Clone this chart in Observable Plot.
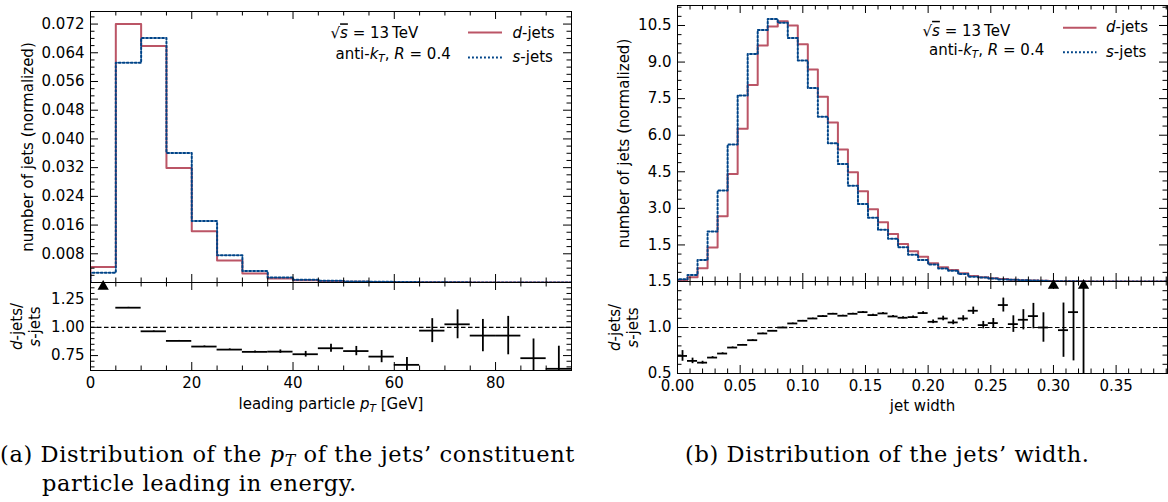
<!DOCTYPE html>
<html><head><meta charset="utf-8">
<script src="https://cdn.jsdelivr.net/npm/d3@7"></script>
<script src="https://cdn.jsdelivr.net/npm/@observablehq/plot@0.6"></script>
<style>
body{margin:0;background:#fff;}
#root{position:relative;width:1168px;height:502px;overflow:hidden;background:#fff;}
.cap{position:absolute;font-family:"DejaVu Serif";font-size:22.5px;line-height:29px;letter-spacing:0.6px;color:#000;white-space:nowrap;}
.cap sub{font-size:70%;vertical-align:-0.25em;}
</style></head><body><div id="root"></div>
<script>
// ---------- data: (a) leading particle pT ----------
const ptEdges = [0,5,10,15,20,25,30,35,40,45,50,55,60,65,70,75,80,85,90,95];
const ptD = [0.0043,0.0720,0.0659,0.0319,0.0143,0.0061,0.0025,0.0011,0.0006,0.00039,0.00024,0.00013,0.00007,0.00006,0.00004,0.00003,0.00002,0.00001,0.000006];
const ptS = [0.0027,0.0612,0.0681,0.0361,0.0171,0.0076,0.0032,0.0014,0.0008,0.00048,0.0003,0.00018,0.00011,0.00006,0.00004,0.00003,0.00002,0.000014,0.00001];
const ptRatio = [1.59,1.174,0.965,0.880,0.830,0.803,0.783,0.785,0.762,0.815,0.790,0.741,0.668,0.971,1.027,0.927,0.927,0.727,0.633];
const ptRatioErr = [0.01,0.003,0.003,0.004,0.005,0.006,0.008,0.015,0.025,0.035,0.041,0.054,0.066,0.106,0.128,0.143,0.17,0.17,0.2];
const ptXTicks = [0,20,40,60,80];
const ptYTicks = [0.008,0.016,0.024,0.032,0.040,0.048,0.056,0.064,0.072];
const ptRatioTicks = [0.75,1.00,1.25];

// ---------- data: (b) jet width ----------
const wEdges = [0,0.008,0.016,0.024,0.032,0.040,0.048,0.056,0.064,0.072,0.080,0.088,0.096,0.104,0.112,0.120,0.128,0.136,0.144,0.152,0.160,0.168,0.176,0.184,0.192,0.200,0.208,0.216,0.224,0.232,0.240,0.248,0.256,0.264,0.272,0.280,0.288,0.296,0.304,0.312,0.320,0.328,0.336,0.344,0.352,0.360,0.368,0.376,0.384,0.392];
const wD = [0.062,0.17,0.54,1.39,2.68,4.41,6.26,8.06,9.68,10.46,10.67,10.50,9.73,8.69,7.58,6.52,5.41,4.48,3.70,2.96,2.43,1.95,1.54,1.24,1.02,0.745,0.58,0.47,0.34,0.23,0.17,0.13,0.10,0.075,0.055,0.04,0.03,0.016,0.012,0.008,0.006,0.004,0.003,0.0025,0.002,0.0015,0.001,0.0008,0.0005];
const wS = [0.09,0.27,0.88,2.05,3.73,5.62,7.63,9.33,10.32,10.77,10.61,9.99,9.06,7.94,6.76,5.67,4.82,3.93,3.18,2.61,2.12,1.75,1.40,1.10,0.88,0.70,0.53,0.445,0.31,0.195,0.166,0.124,0.08,0.072,0.051,0.036,0.03,0.008,0.0124,0.0069,0.003,0.004,0.003,0.0025,0.002,0.0015,0.001,0.0008,0.0005];
const wRatio = [0.691,0.637,0.618,0.673,0.717,0.782,0.811,0.862,0.935,0.964,1.000,1.044,1.073,1.098,1.124,1.149,1.128,1.149,1.167,1.135,1.153,1.120,1.106,1.113,1.157,1.062,1.098,1.055,1.098,1.182,1.026,1.048,1.244,1.037,1.084,1.124,1.000,2.0,0.971,1.167,1.9];
const wRatioErr = [0.058,0.03,0.015,0.01,0.008,0.006,0.005,0.005,0.004,0.004,0.004,0.004,0.004,0.004,0.005,0.005,0.005,0.006,0.007,0.008,0.009,0.01,0.011,0.012,0.015,0.02,0.025,0.025,0.03,0.04,0.04,0.05,0.076,0.09,0.11,0.138,0.16,0.3,0.295,0.53,1.6];
const wXTicks = [0,0.05,0.10,0.15,0.20,0.25,0.30,0.35];
const wYTicks = [1.5,3.0,4.5,6.0,7.5,9.0,10.5];
const wRatioTicks = [0.5,1.0,1.5];

const RED = "#BB5566", BLUE = "#004488", DOTS = "1.9,2.1";
const root = document.getElementById("root");

function minor(lo, hi, step, majors) {
  const out = [];
  for (let i = Math.ceil(lo/step - 1e-9); i <= Math.floor(hi/step + 1e-9); i++) {
    const v = +(i*step).toFixed(6);
    if (!majors.some(m => Math.abs(m - v) < step/10)) out.push(v);
  }
  return out;
}
function stepPts(edges, vals) {
  const pts = [{x: edges[0], y: 0}];
  vals.forEach((v, i) => { pts.push({x: edges[i], y: v}, {x: edges[i+1], y: v}); });
  pts.push({x: edges[vals.length], y: 0});
  return pts;
}
function ratioRows(edges, r, e) {
  return r.map((v, i) => ({x1: edges[i], x2: edges[i+1], xc: (edges[i]+edges[i+1])/2, r: v, lo: v - e[i], hi: v + e[i]}));
}
function frameTicks(xMajor, xMinor, yMajor, yMinor, pw, ph) {
  const M = 8, m = 4.5, s = {stroke: "black", strokeWidth: 1};
  return [
    Plot.ruleX(xMajor, {...s, insetTop: ph - M}),
    Plot.ruleX(xMajor, {...s, insetBottom: ph - M}),
    Plot.ruleX(xMinor, {...s, insetTop: ph - m}),
    Plot.ruleX(xMinor, {...s, insetBottom: ph - m}),
    Plot.ruleY(yMajor, {...s, insetRight: pw - M}),
    Plot.ruleY(yMajor, {...s, insetLeft: pw - M}),
    Plot.ruleY(yMinor, {...s, insetRight: pw - m}),
    Plot.ruleY(yMinor, {...s, insetLeft: pw - m})
  ];
}
const STYLE = {fontFamily: "DejaVu Sans", fontSize: "15px", color: "black", background: "transparent", overflow: "visible"};

function panel(o) {
  const pw = o.width - o.ml - o.mr, ph = o.height - o.mt - o.mb;
  const svg = Plot.plot({
    width: o.width, height: o.height,
    marginTop: o.mt, marginBottom: o.mb, marginLeft: o.ml, marginRight: o.mr,
    x: o.xAxis ? {domain: o.xDomain} : {domain: o.xDomain, axis: null},
    y: {domain: o.yDomain},
    style: STYLE,
    marks: [
      ...o.marks,
      ...frameTicks(o.xMajor, o.xMinor, o.yMajor, o.yMinor, pw, ph),
      Plot.frame({stroke: "black", strokeWidth: 1})
    ]
  });
  svg.style.position = "absolute";
  svg.style.left = o.left + "px";
  svg.style.top = o.top + "px";
  root.appendChild(svg);
  return svg;
}
function txt(s, opts) { return Plot.text([s], {text: d => d, fontSize: 15, fill: "black", ...opts}); }

const RICH = {
  "√s = 13 TeV": '√<tspan font-style="italic" text-decoration="overline">s</tspan> = 13\u2009TeV',
  "anti-kT, R = 0.4": 'anti-<tspan font-style="italic">k</tspan><tspan font-style="italic" font-size="10.5" dy="3">T</tspan><tspan dy="-3">, </tspan><tspan font-style="italic">R</tspan> = 0.4',
  "d-jets": '<tspan font-style="italic">d</tspan>-jets',
  "s-jets": '<tspan font-style="italic">s</tspan>-jets',
  "d-jets/": '<tspan font-style="italic">d</tspan>-jets/',
  "leading particle pT [GeV]": 'leading particle <tspan font-style="italic">p</tspan><tspan font-style="italic" font-size="10.5" dy="3">T</tspan><tspan dy="-3"> [GeV]</tspan>'
};
function enrich(svg) {
  d3.select(svg).selectAll("text").each(function () {
    const k = this.textContent;
    if (RICH[k]) this.innerHTML = RICH[k];
  });
}
function legendLines(svg, xr, yTop, a) {
  const g = d3.select(svg).append("g");
  g.append("line").attr("x1", xr + a.x1).attr("x2", xr + a.x2).attr("y1", yTop + a.yd).attr("y2", yTop + a.yd)
    .attr("stroke", RED).attr("stroke-width", 2);
  g.append("line").attr("x1", xr + a.x1).attr("x2", xr + a.x2).attr("y1", yTop + a.ys).attr("y2", yTop + a.ys)
    .attr("stroke", BLUE).attr("stroke-width", 2).attr("stroke-dasharray", DOTS);
}

function topPanel(c) {
  const svg = panel({
    left: c.left, top: 0, width: c.width, height: c.height, mt: c.mt, mb: 0, ml: 90, mr: c.mr,
    xDomain: c.xDomain, yDomain: c.yDomain,
    xMajor: c.xMajor, xMinor: c.xMinor, yMajor: c.yMajor, yMinor: c.yMinor,
    marks: [
      Plot.axisY({ticks: c.yTicks, anchor: "left", tickSize: 0, tickPadding: 6, tickFormat: d3.format(c.yFmt), label: null}),
      Plot.line(stepPts(c.edges, c.d), {x: "x", y: "y", stroke: RED, strokeWidth: 2, clip: true}),
      Plot.line(stepPts(c.edges, c.s), {x: "x", y: "y", stroke: BLUE, strokeWidth: 2, strokeDasharray: DOTS, clip: true}),
      txt("number of jets (normalized)", {frameAnchor: "left", textAnchor: "middle", lineAnchor: "middle", dx: -c.ylabDx, rotate: -90}),
      txt("√s = 13 TeV", {frameAnchor: "top-right", textAnchor: "start", lineAnchor: "middle", dx: c.ann.sx, dy: c.ann.sy}),
      txt("anti-kT, R = 0.4", {frameAnchor: "top-right", textAnchor: "start", lineAnchor: "middle", dx: c.ann.ax, dy: c.ann.ay}),
      txt("d-jets", {frameAnchor: "top-right", textAnchor: "start", lineAnchor: "middle", dx: c.ann.tx, dy: c.ann.td}),
      txt("s-jets", {frameAnchor: "top-right", textAnchor: "start", lineAnchor: "middle", dx: c.ann.tx, dy: c.ann.ts})
    ]
  });
  enrich(svg);
  legendLines(svg, c.width - c.mr, c.mt, c.leg);
}

function ratioPanel(c) {
  const rows = ratioRows(c.edges, c.r, c.e);
  const ymax = c.yDomain[1];
  const svg = panel({
    left: c.left, top: c.top - 10, width: c.width, height: c.height, mt: 10, mb: c.mb, ml: 90, mr: c.mr,
    xAxis: true, xDomain: c.xDomain, yDomain: c.yDomain,
    xMajor: c.xMajor, xMinor: c.xMinor, yMajor: c.yMajor, yMinor: c.yMinor,
    marks: [
      Plot.axisY({ticks: c.yTicks, anchor: "left", tickSize: 0, tickPadding: 6, tickFormat: d3.format(c.yFmt), label: null}),
      Plot.axisX({ticks: c.xTicks, anchor: "bottom", tickSize: 0, tickPadding: 7, tickFormat: d3.format(c.xFmt), label: null}),
      Plot.ruleY([1], {stroke: "black", strokeWidth: 1.2, strokeDasharray: "4.5,2.5"}),
      Plot.ruleY(rows, {y: "r", x1: "x1", x2: "x2", stroke: "black", strokeWidth: 1.8, clip: true}),
      Plot.ruleX(rows, {x: "xc", y1: "lo", y2: "hi", stroke: "black", strokeWidth: 1.8, clip: true}),
      Plot.dot(rows.filter(d => d.r > ymax), {x: "xc", y: () => ymax, symbol: "triangle", r: 4.2, fill: "black", stroke: "none", dy: 4}),
      txt("d-jets/", {frameAnchor: "left", textAnchor: "middle", lineAnchor: "middle", dx: -c.l1, rotate: -90}),
      txt("s-jets", {frameAnchor: "left", textAnchor: "middle", lineAnchor: "middle", dx: -c.l2, rotate: -90}),
      txt(c.xlabel, {frameAnchor: "bottom", textAnchor: "middle", lineAnchor: "middle", dy: c.xlabDy})
    ]
  });
  enrich(svg);
}

// ---------- (a) ----------
topPanel({
  left: 0, width: 580, height: 282, mt: 11, mr: 9,
  xDomain: [0, 95], yDomain: [0, 0.0755],
  xMajor: [0,20,40,60,80], xMinor: minor(0, 95, 5, [0,20,40,60,80]),
  yMajor: [0, ...ptYTicks], yMinor: minor(0, 0.0755, 0.002, [0, ...ptYTicks]),
  yTicks: ptYTicks, yFmt: ".3f", edges: ptEdges, d: ptD, s: ptS, ylabDx: 62,
  ann: {sx: -241, sy: 22, ax: -236, ay: 43, tx: -59, td: 21.5, ts: 45.5},
  leg: {x1: -103, x2: -69, yd: 21.5, ys: 46.5}
});
ratioPanel({
  left: 0, top: 282, width: 580, height: 148, mb: 50, mr: 9,
  xDomain: [0, 95], yDomain: [0.618, 1.397],
  xMajor: [0,20,40,60,80], xMinor: minor(0, 95, 5, [0,20,40,60,80]),
  yMajor: ptRatioTicks, yMinor: minor(0.618, 1.397, 0.05, ptRatioTicks),
  yTicks: ptRatioTicks, yFmt: ".2f", xTicks: ptXTicks, xFmt: "d",
  edges: ptEdges, r: ptRatio, e: ptRatioErr, l1: 73, l2: 55,
  xlabel: "leading particle pT [GeV]", xlabDy: 34
});

// ---------- (b) ----------
topPanel({
  left: 587, width: 581, height: 281, mt: 5, mr: 1,
  xDomain: [0, 0.391], yDomain: [0, 11.32],
  xMajor: wXTicks, xMinor: minor(0, 0.391, 0.01, wXTicks),
  yMajor: [0, ...wYTicks], yMinor: minor(0, 11.32, 0.375, [0, ...wYTicks]),
  yTicks: wYTicks, yFmt: ".1f", edges: wEdges, d: wD, s: wS, ylabDx: 53,
  ann: {sx: -245, sy: 25.5, ax: -238.5, ay: 45, tx: -61.5, td: 21.5, ts: 46.5},
  leg: {x1: -104, x2: -70.5, yd: 22.7, ys: 47.3}
});
ratioPanel({
  left: 587, top: 281, width: 581, height: 150, mb: 48, mr: 1,
  xDomain: [0, 0.391], yDomain: [0.5, 1.5],
  xMajor: wXTicks, xMinor: minor(0, 0.391, 0.01, wXTicks),
  yMajor: wRatioTicks, yMinor: minor(0.5, 1.5, 0.1, wRatioTicks),
  yTicks: wRatioTicks, yFmt: ".1f", xTicks: wXTicks, xFmt: ".2f",
  edges: wEdges, r: wRatio, e: wRatioErr, l1: 62, l2: 44,
  xlabel: "jet width", xlabDy: 32.5
});

// ---------- captions ----------
function cap(html, left, top) {
  const d = document.createElement("div");
  d.className = "cap"; d.innerHTML = html;
  d.style.left = left + "px"; d.style.top = top + "px";
  root.appendChild(d);
}
cap('(a) Distribution of the <i>p</i><sub><i>T</i></sub> of the jets’ constituent', 0, 440);
cap('particle leading in energy.', 42, 469);
cap('(b) Distribution of the jets’ width.', 685, 440);
</script></body></html>
